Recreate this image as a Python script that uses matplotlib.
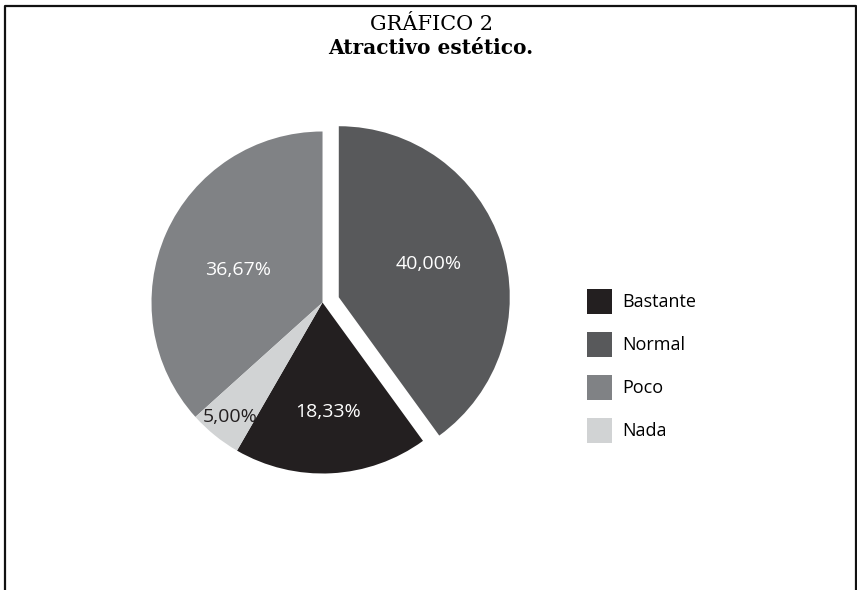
import matplotlib
matplotlib.use("Agg")
import matplotlib.pyplot as plt
from matplotlib.lines import Line2D
import numpy as np

# data (counterclockwise order, starting at the Bastante slice)
categories = ["Bastante", "Normal", "Poco", "Nada"]
values = [18.33, 40.00, 36.67, 5.00]
colors = ["#231f20", "#58595b", "#808285", "#d1d3d4"]
explode = [0, 0.1, 0, 0]
label_dist = [0.64, 0.56, 0.53, 0.86]
label_turn = [0, 2, 3, 0]  # small angular nudges, degrees
label_color = ["white", "white", "white", "#231f20"]

W, H = 857, 590
fig = plt.figure(figsize=(W / 100, H / 100), dpi=100)
fig.patch.set_facecolor("white")

# pie axes: center (322, 302) px, radius 171 px
R = 171
cx, cy = 322.5, 302.5
half = 200
ax = fig.add_axes([(cx - half) / W, (H - cy - half) / H, 2 * half / W, 2 * half / H])
wedges, texts, autotexts = ax.pie(values, colors=colors, explode=explode,
                                  startangle=240, counterclock=True, radius=1,
                                  autopct=lambda p: f"{p:.2f}%".replace(".", ","),
                                  wedgeprops=dict(linewidth=0),
                                  textprops=dict(family="Open Sans", fontsize=14))
ax.set_xlim(-half / R, half / R)
ax.set_ylim(-half / R, half / R)
ax.set_aspect("equal")
ax.axis("off")

for w, t, d, c, e, a in zip(wedges, autotexts, label_dist, label_color, explode, label_turn):
    ang = np.deg2rad((w.theta1 + w.theta2) / 2 + a)
    ang0 = np.deg2rad((w.theta1 + w.theta2) / 2)
    t.set_position((d * np.cos(ang) + e * np.cos(ang0), d * np.sin(ang) + e * np.sin(ang0)))
    t.set_color(c)

# legend
fig.legend(wedges, categories, loc="upper left",
           bbox_to_anchor=(587 / W, 1 - 289 / H),
           frameon=False, prop=dict(family="Open Sans", size=13),
           handlelength=1.384, handleheight=1.752, labelspacing=1.0,
           handletextpad=0.55, borderaxespad=0, borderpad=0)

# titles
fig.text(431 / W, 1 - 25 / H, "GRÁFICO 2", ha="center", va="center",
         family="DejaVu Serif", fontsize=15)
fig.text(431 / W, 1 - 48 / H, "Atractivo estético.", ha="center", va="center",
         family="DejaVu Serif", fontsize=14.5, weight="bold")

# frame (left, top, right)
lw = 1.6
fig.add_artist(Line2D([5 / W, 5 / W, 855.5 / W, 855.5 / W],
                      [0, 1 - 5.5 / H, 1 - 5.5 / H, 0],
                      transform=fig.transFigure, color="#111111", lw=lw))

fig.savefig("out.png", dpi=100)
